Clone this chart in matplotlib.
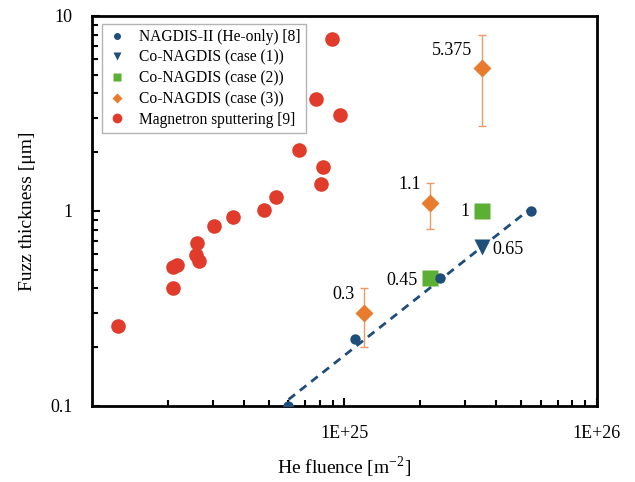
import numpy as np
import matplotlib.pyplot as plt
from matplotlib.lines import Line2D

plt.rcParams['font.family'] = ['Liberation Serif', 'DejaVu Serif']
plt.rcParams['mathtext.fontset'] = 'stix'

# NAGDIS-II (He-only) [8]
he_x = [6.0e24, 1.10e25, 2.4e25, 5.5e25]
he_y = [0.1, 0.22, 0.45, 1.0]

# Co-NAGDIS case (1)
c1_x = [3.5e25]
c1_y = [0.65]

# Co-NAGDIS case (2)
c2_x = [2.19e25, 3.5e25]
c2_y = [0.45, 1.0]

# Co-NAGDIS case (3) with error bars
c3_x = [1.19e25, 2.19e25, 3.5e25]
c3_y = [0.3, 1.1, 5.375]
c3_err_lo = [0.1, 0.29, 2.65]
c3_err_hi = [0.1, 0.29, 2.6]

# Magnetron sputtering [9]
ms_x = [1.27e24, 2.09e24, 2.09e24, 2.17e24, 2.60e24, 2.58e24, 2.65e24, 3.03e24, 3.61e24,
        4.78e24, 5.34e24, 6.58e24, 8.04e24, 8.19e24, 7.68e24, 9.64e24, 8.89e24]
ms_y = [0.257, 0.403, 0.516, 0.529, 0.686, 0.595, 0.554, 0.838, 0.931,
        1.01, 1.18, 2.05, 1.37, 1.68, 3.75, 3.11, 7.62]

blue = '#1f4e7a'
green = '#5bb033'
orange = '#e87b2e'
red = '#e03b2b'

fig = plt.figure(figsize=(6.35, 4.82), dpi=100)
ax = fig.add_axes([0.145, 0.158, 0.795, 0.809])
ax.set_xscale('log')
ax.set_yscale('log')

# power-law trend line through He-only data
k, b = np.polyfit(np.log10(he_x), np.log10(he_y), 1)
fx = np.array([min(he_x), max(he_x)])
ax.plot(fx, 10 ** (k * np.log10(fx) + b), linestyle=(0, (3, 2.2)), color=blue, lw=2, zorder=2)

ax.plot(ms_x, ms_y, 'o', color=red, ms=10.5, mec='none', zorder=3)
ax.plot(he_x, he_y, 'o', color=blue, ms=7.5, mec='none', zorder=4)
ax.errorbar(c3_x, c3_y, yerr=[c3_err_lo, c3_err_hi], fmt='D', color=orange, ms=9,
            mec='none', ecolor='#ee9a62', elinewidth=1, capsize=3, capthick=1, zorder=3)
ax.plot(c2_x, c2_y, 's', color=green, ms=12, mec='none', zorder=3)
ax.plot(c1_x, c1_y, 'v', color=blue, ms=11, mec='none', zorder=5)

# value labels
labels = [('5.375', c3_x[2], c3_y[2], -10, 18, 'right'),
          ('1.1', c3_x[1], c3_y[1], -9, 18, 'right'),
          ('0.3', c3_x[0], c3_y[0], -9, 18, 'right'),
          ('1', c2_x[1], c2_y[1], -12, -1, 'right'),
          ('0.45', c2_x[0], c2_y[0], -13, -2, 'right'),
          ('0.65', c1_x[0], c1_y[0], 11, -2, 'left')]
for txt, x, y, dx, dy, ha in labels:
    ax.annotate(txt, (x, y), xytext=(dx, dy), textcoords='offset pixels',
                ha=ha, va='center', fontsize=13)

ax.set_xlim(1e24, 1e26)
ax.set_ylim(0.1, 10)
ax.set_xticks([1e25, 1e26])
ax.set_xticklabels(['1E+25', '1E+26'])
ax.set_yticks([0.1, 1, 10])
ax.set_yticklabels(['0.1', '1', '10'])
ax.tick_params(which='both', direction='in', top=False, right=False, labelsize=13, width=1.5)
ax.tick_params(which='major', length=6)
ax.tick_params(which='minor', length=4)
ax.tick_params(axis='y', which='major', pad=14)
ax.tick_params(axis='x', which='major', pad=14)
for s in ax.spines.values():
    s.set_linewidth(2)

ax.set_xlabel('He fluence [m$^{\\mathregular{-2}}$]', fontsize=14, labelpad=9)
ax.set_ylabel('Fuzz thickness [μm]', fontsize=14, labelpad=10)

handles = [Line2D([], [], ls='none', marker='o', color=blue, ms=5, mec='none'),
           Line2D([], [], ls='none', marker='v', color=blue, ms=6, mec='none'),
           Line2D([], [], ls='none', marker='s', color=green, ms=5.5, mec='none'),
           Line2D([], [], ls='none', marker='D', color=orange, ms=5, mec='none'),
           Line2D([], [], ls='none', marker='o', color=red, ms=7, mec='none')]
names = ['NAGDIS-II (He-only) [8]', 'Co-NAGDIS (case (1))', 'Co-NAGDIS (case (2))',
         'Co-NAGDIS (case (3))', 'Magnetron sputtering [9]']
leg = ax.legend(handles, names, loc='upper left', bbox_to_anchor=(0.02, 0.98), borderaxespad=0,
                fontsize=11.2, frameon=True, fancybox=False, edgecolor='#a0a0a0',
                handlelength=1.2, handletextpad=0.8, labelspacing=0.3, borderpad=0.35)
leg.get_frame().set_linewidth(1)

fig.savefig('out.png', dpi=100)
